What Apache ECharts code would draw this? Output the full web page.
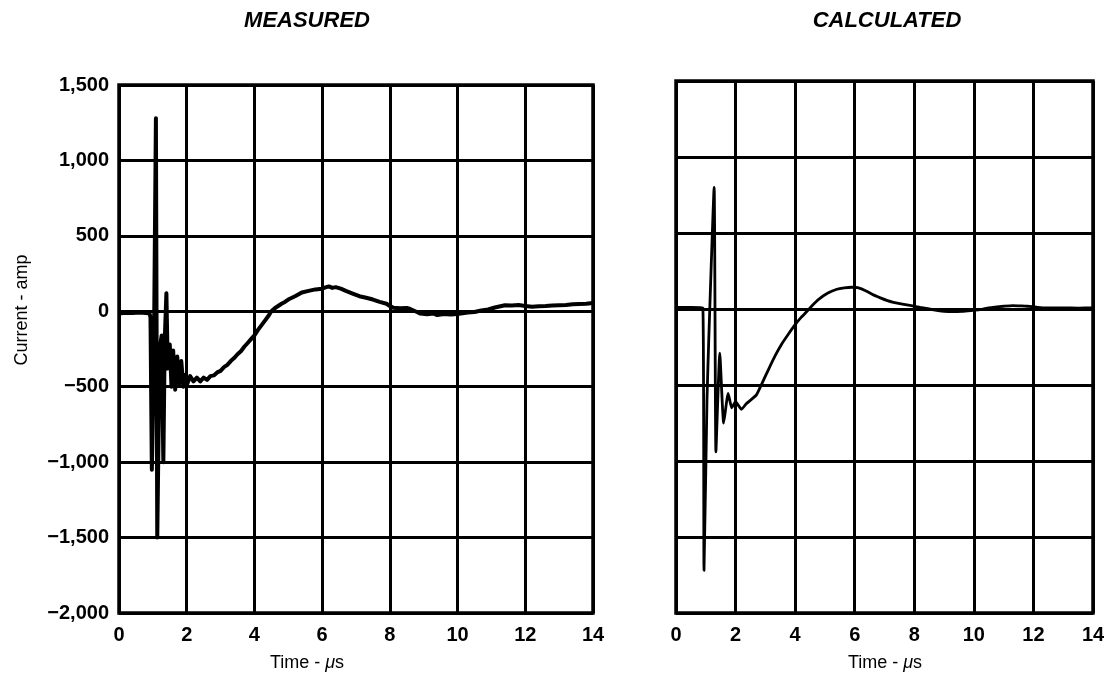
<!DOCTYPE html>
<html>
<head>
<meta charset="utf-8">
<title>Measured vs calculated current</title>
<script src="https://cdn.jsdelivr.net/npm/echarts@6/dist/echarts.min.js"></script>
<style>
  html, body { margin: 0; padding: 0; background: #fff; }
  #chart { width: 1112px; height: 679px; }
</style>
</head>
<body>
<div id="chart"></div>
<script>
// Time axis (µs) and current axis (amp)
const xTicks = [0, 2, 4, 6, 8, 10, 12, 14];
const xTickLabels = ['0', '2', '4', '6', '8', '10', '12', '14'];
const yTicks = [-2000, -1500, -1000, -500, 0, 500, 1000, 1500];
const yTickLabels = ['\u22122,000', '\u22121,500', '\u22121,000', '\u2212500', '0', '500', '1,000', '1,500'];

// Measured current trace: [time µs, current amp]
const measured = [
  [0, -15], [0.2, -10], [0.4, -12], [0.6, -8], [0.8, -12], [0.9, -15], [0.93, -40],
  [0.97, -1050], [1.03, -300], [1.09, 1280], [1.13, -1500], [1.2, -250], [1.26, -160],
  [1.31, -1000], [1.35, -200], [1.4, 120], [1.44, -380], [1.5, -220], [1.55, -500],
  [1.6, -260], [1.66, -520], [1.72, -300], [1.78, -480], [1.84, -330], [1.9, -500],
  [1.96, -420], [2.02, -480], [2.1, -430], [2.2, -465], [2.3, -440], [2.4, -465],
  [2.5, -440], [2.6, -455], [2.7, -430], [2.8, -425], [2.9, -405], [3.0, -395],
  [3.1, -370], [3.2, -355], [3.3, -330], [3.4, -310], [3.5, -285], [3.6, -265],
  [3.7, -235], [3.8, -210], [3.9, -185], [4.0, -160], [4.1, -125], [4.2, -95],
  [4.3, -65], [4.4, -35], [4.5, 0], [4.6, 20], [4.7, 35], [4.8, 50], [4.9, 62],
  [5.0, 78], [5.2, 100], [5.4, 125], [5.6, 135], [5.8, 145], [6.0, 150], [6.1, 158],
  [6.2, 165], [6.3, 155], [6.4, 160], [6.55, 150], [6.7, 135], [6.9, 117], [7.1, 100],
  [7.3, 90], [7.5, 78], [7.7, 62], [7.9, 50], [8.0, 35], [8.1, 24], [8.3, 20],
  [8.5, 22], [8.6, 15], [8.8, -5], [8.9, -15], [9.1, -20], [9.3, -15], [9.4, -25],
  [9.6, -18], [9.8, -22], [9.9, -20], [10.1, -15], [10.3, -8], [10.5, -5], [10.7, 5],
  [10.9, 12], [11.1, 25], [11.3, 35], [11.4, 40], [11.6, 38], [11.8, 42], [12.0, 35],
  [12.2, 30], [12.4, 33], [12.6, 35], [12.8, 38], [13.0, 40], [13.2, 42], [13.4, 46],
  [13.6, 48], [13.8, 50], [14, 55]
];

// Calculated current trace: [time µs, current amp]
const calculated = [
  [0, 10], [0.5, 10], [0.9, 8], [0.94, -1720], [1.04, -600], [1.1, -200], [1.28, 800],
  [1.34, -940], [1.47, -290], [1.6, -750], [1.75, -555], [1.87, -650], [2.0, -610],
  [2.2, -660], [2.35, -625], [2.5, -600], [2.7, -565], [2.9, -484], [3.1, -400],
  [3.33, -307], [3.55, -230], [3.77, -166], [4.0, -103], [4.2, -55], [4.4, -15],
  [4.55, 18], [4.8, 65], [5.1, 105], [5.4, 130], [5.65, 139], [5.9, 143], [6.1, 140],
  [6.4, 117], [6.6, 95], [6.86, 73], [7.1, 55], [7.3, 44], [7.6, 32], [7.9, 22],
  [8.2, 10], [8.5, 0], [8.8, -10], [9.0, -15], [9.3, -17], [9.6, -15], [9.9, -10],
  [10.2, -4], [10.5, 8], [10.7, 13], [11.0, 18], [11.3, 22], [11.6, 20], [11.8, 18],
  [12.1, 12], [12.4, 7], [13.0, 7], [13.5, 6], [14, 7]
];

const panelTitles = ['MEASURED', 'CALCULATED'];
const xAxisTitle = 'Time - {mu|\u03bc}s';
const yAxisTitle = 'Current - amp';

const INK = '#000';
const tickFont = { fontFamily: 'Liberation Sans', fontWeight: 'bold', fontSize: 20, color: INK };

function xAxisFor(gridIndex) {
  return {
    type: 'value', gridIndex, min: xTicks[0], max: xTicks[xTicks.length - 1], interval: 2,
    axisLine: { show: false }, axisTick: { show: false },
    axisLabel: Object.assign({ margin: 12,
      formatter: v => xTickLabels[xTicks.indexOf(v)] }, tickFont),
    splitLine: { show: true, lineStyle: { color: INK, width: 3 } }
  };
}
function yAxisFor(gridIndex, labels) {
  return {
    type: 'value', gridIndex, min: yTicks[0], max: yTicks[yTicks.length - 1], interval: 500,
    axisLine: { show: false }, axisTick: { show: false },
    axisLabel: Object.assign({ show: labels, margin: 10,
      formatter: v => yTickLabels[yTicks.indexOf(v)] }, tickFont),
    splitLine: { show: true, lineStyle: { color: INK, width: 3 } }
  };
}

function label(text, x, y, font, extra) {
  return Object.assign({
    type: 'text', x, y, silent: true,
    style: {
      text, font, fill: INK,
      align: 'center', verticalAlign: 'middle',
      textAlign: 'center', textVerticalAlign: 'middle',
      rich: { mu: { font: 'italic 18px "Liberation Sans"', fill: INK } }
    }
  }, extra || {});
}

const chart = echarts.init(document.getElementById('chart'), null, { renderer: 'canvas' });
chart.setOption({
  animation: false,
  backgroundColor: '#fff',
  grid: [
    { left: 119, top: 85, width: 474, height: 528, show: true, borderColor: INK, borderWidth: 3.5, backgroundColor: 'transparent' },
    { left: 676, top: 81, width: 417, height: 532, show: true, borderColor: INK, borderWidth: 3.5, backgroundColor: 'transparent' }
  ],
  xAxis: [xAxisFor(0), xAxisFor(1)],
  yAxis: [yAxisFor(0, true), yAxisFor(1, false)],
  series: [
    { type: 'line', xAxisIndex: 0, yAxisIndex: 0, data: measured, showSymbol: false,
      lineStyle: { color: INK, width: 4, join: 'round' }, z: 5 },
    { type: 'line', xAxisIndex: 1, yAxisIndex: 1, data: calculated, showSymbol: false,
      smooth: 0.15, lineStyle: { color: INK, width: 2.8, join: 'round' }, z: 5 }
  ],
  graphic: [
    label(panelTitles[0], 307, 21, 'italic bold 22px "Liberation Sans"'),
    label(panelTitles[1], 887, 21, 'italic bold 22px "Liberation Sans"'),
    label(xAxisTitle, 307, 663, '18px "Liberation Sans"'),
    label(xAxisTitle, 885, 663, '18px "Liberation Sans"'),
    label(yAxisTitle, 22, 310, '18px "Liberation Sans"', { rotation: Math.PI / 2 })
  ]
});
</script>
</body>
</html>
